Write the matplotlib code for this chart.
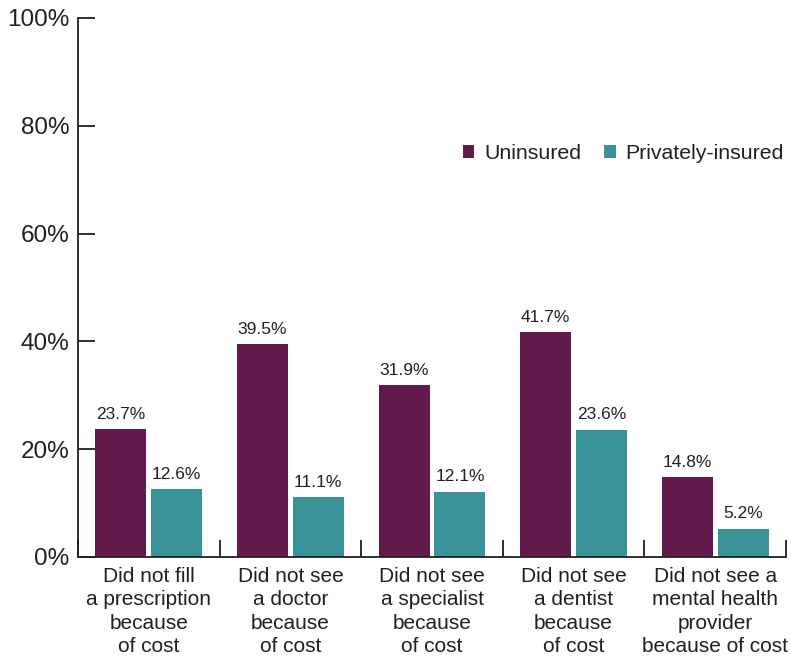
import numpy as np
import matplotlib
matplotlib.use("Agg")
import matplotlib.pyplot as plt

plt.rcParams['font.family'] = ['Liberation Sans', 'DejaVu Sans']

categories = ["Did not fill\na prescription\nbecause\nof cost",
              "Did not see\na doctor\nbecause\nof cost",
              "Did not see\na specialist\nbecause\nof cost",
              "Did not see\na dentist\nbecause\nof cost",
              "Did not see a\nmental health\nprovider\nbecause of cost"]
uninsured = [23.7, 39.5, 31.9, 41.7, 14.8]
private = [12.6, 11.1, 12.1, 23.6, 5.2]
series_names = ["Uninsured", "Privately-insured"]
yticks = [0, 20, 40, 60, 80, 100]

c_unins = "#621a4a"
c_priv = "#3a9399"
txt = "#231f20"

fig = plt.figure(figsize=(7.91, 6.59), dpi=100)
ax = fig.add_axes([0.0986, 0.1548, 0.8951, 0.8179])

x = np.arange(len(categories))
w = 0.36
off = 0.197
b1 = ax.bar(x - off, uninsured, w, color=c_unins, label=series_names[0])
b2 = ax.bar(x + off, private, w, color=c_priv, label=series_names[1])

for bars, vals in ((b1, uninsured), (b2, private)):
    for b, v in zip(bars, vals):
        ax.text(b.get_x() + b.get_width() / 2, v + 1.4, "%.1f%%" % v,
                ha='center', va='bottom', fontsize=12.5, color=txt)

ax.set_xlim(-0.5, len(categories) - 0.5)
ax.set_ylim(0, 100)
ax.set_yticks(yticks)
ax.set_yticklabels(["%d%%" % t for t in yticks], fontsize=17.5, color=txt)
ax.set_xticks(x)
ax.set_xticklabels(categories, fontsize=15, color=txt, linespacing=1.3)
ax.set_xticks(np.arange(-0.5, len(categories)), minor=True)
ax.tick_params(axis='x', which='major', length=0, pad=7)
ax.tick_params(axis='x', which='minor', direction='in', length=12, width=1.3, color=txt)
ax.tick_params(axis='y', direction='in', length=12, width=1.3, color=txt, pad=6)

for s in ['top', 'right']:
    ax.spines[s].set_visible(False)
for s in ['left', 'bottom']:
    ax.spines[s].set_linewidth(1.3)
    ax.spines[s].set_color(txt)

leg = ax.legend(loc='center right', bbox_to_anchor=(0.997, 0.749), ncol=2, frameon=False,
                fontsize=15.3, handlelength=0.55, handleheight=0.55, handletextpad=0.45,
                columnspacing=1.1, labelcolor=txt, borderaxespad=0, borderpad=0)

fig.savefig("out.png", dpi=100)
